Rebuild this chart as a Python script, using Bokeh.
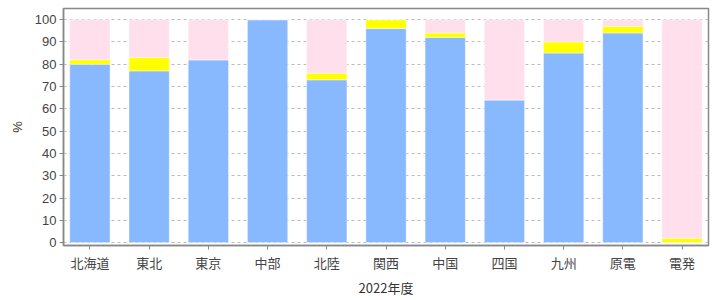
from bokeh.plotting import figure
from bokeh.models import FactorRange, Range1d, SingleIntervalTicker
from bokeh.embed import file_html
from bokeh.resources import INLINE

regions = ["北海道", "東北", "東京", "中部", "北陸", "関西", "中国", "四国", "九州", "原電", "電発"]
blue = [80, 77, 82, 100, 73, 96, 92, 64, 85, 94, 0]
yellow = [2, 6, 0, 0, 3, 4, 2, 0, 5, 3, 2]
pink = [18, 17, 18, 0, 24, 0, 6, 36, 10, 3, 98]

data = dict(x=regions, blue=blue, yellow=yellow, pink=pink)

p = figure(x_range=FactorRange(*regions, range_padding=-0.054, range_padding_units="absolute"),
           y_range=Range1d(-1.3, 105),
           width=720, height=300, output_backend="svg", toolbar_location=None,
           min_border_left=63, min_border_right=12, min_border_top=8, min_border_bottom=55)

p.vbar_stack(["blue", "yellow", "pink"], x="x", width=0.68, source=data,
             color=["#88b8fd", "#ffff00", "#ffdfeb"], line_color="white", line_alpha=0.4, line_width=1)

p.outline_line_color = "#888888"
p.outline_line_width = 1.5
p.xgrid.grid_line_color = None
p.ygrid.grid_line_color = "#bbbbbb"
p.ygrid.grid_line_dash = "3 3"
p.ygrid.ticker = SingleIntervalTicker(interval=10)
p.yaxis.ticker = SingleIntervalTicker(interval=10)

for ax in (p.xaxis[0], p.yaxis[0]):
    ax.axis_line_color = "#888888"
    ax.axis_line_width = 1.5
    ax.major_tick_line_color = "#888888"
    ax.major_tick_out = 4
    ax.major_tick_in = 0
    ax.minor_tick_line_color = None
    ax.major_label_text_color = "#444444"
    ax.major_label_text_font_size = "13px"
    ax.axis_label_text_color = "#333333"
    ax.axis_label_text_font_size = "13px"
    ax.axis_label_text_font_style = "normal"

p.yaxis.major_label_text_font = "Liberation Sans"
p.xaxis.major_label_text_font = "Noto Sans CJK JP"
p.xaxis.axis_label_text_font = "Noto Sans CJK JP"
p.yaxis.axis_label_text_font = "Liberation Sans"
p.yaxis.axis_label = "%"
p.xaxis.axis_label = "2022年度"
p.xaxis.major_label_standoff = 3
p.xaxis.axis_label_standoff = 3
p.yaxis.major_label_standoff = 3
p.yaxis.axis_label_standoff = 7

open("out.html", "w").write(file_html(p, INLINE))
